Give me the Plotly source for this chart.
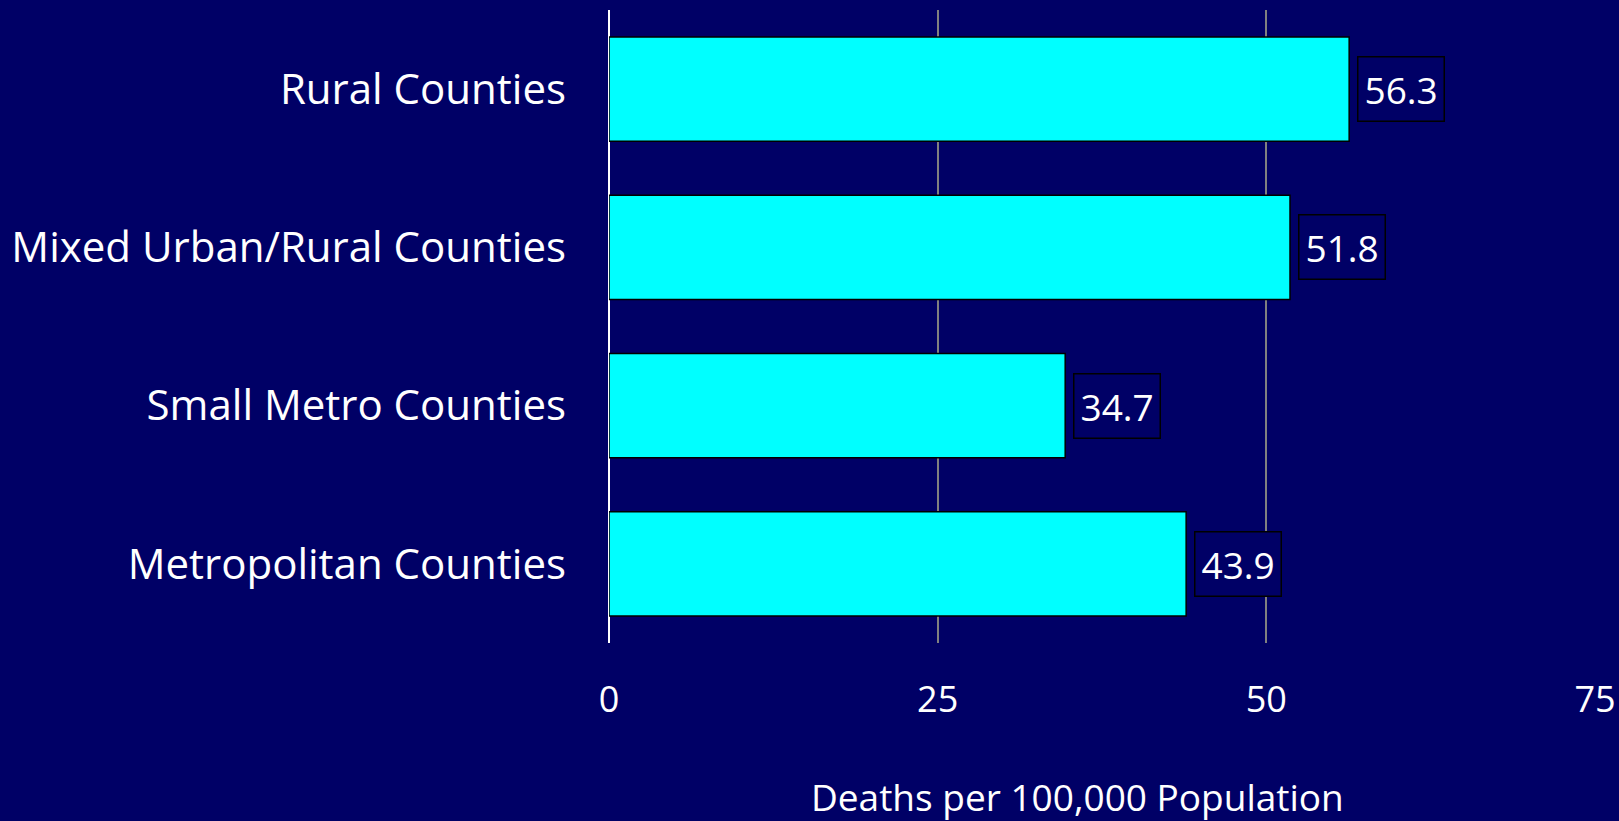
import plotly.graph_objects as go

# data, top to bottom as in the chart
categories = ["Rural Counties", "Mixed Urban/Rural Counties",
              "Small Metro Counties", "Metropolitan Counties"]
deaths = [56.3, 51.8, 34.7, 43.9]
x_ticks = [0, 25, 50, 75]

navy = "#000066"
font_family = "Open Sans, Noto Sans, sans-serif"

fig = go.Figure()

fig.add_trace(
    go.Bar(
        x=deaths,
        y=categories,
        orientation="h",
        marker=dict(color="#00FFFF", line=dict(color="black", width=1.5)),
        width=0.66,
        hoverinfo="x+y",
    )
)

# boxed value labels to the right of each bar
for cat, val in zip(categories, deaths):
    fig.add_annotation(
        x=val, y=cat,
        text=f"{val:.1f}",
        showarrow=False,
        xanchor="left",
        xshift=8,
        font=dict(size=37, color="white", family=font_family),
        bgcolor=navy,
        bordercolor="black",
        borderwidth=1.5,
        borderpad=6,
    )

# x-axis title, sits a little left of the plot centre
fig.add_annotation(
    text="Deaths per 100,000 Population",
    xref="paper", yref="paper",
    x=0.4747, y=-0.243,
    xanchor="center", yanchor="middle",
    showarrow=False,
    font=dict(size=37, color="white", family=font_family),
)

fig.update_layout(
    width=1619, height=821,
    paper_bgcolor=navy,
    plot_bgcolor=navy,
    margin=dict(l=609, r=24, t=10, b=178, autoexpand=False),
    showlegend=False,
    font=dict(family=font_family, color="white"),
)

fig.update_xaxes(
    range=[0, 75],
    tickvals=x_ticks,
    automargin=False,
    showgrid=True, gridcolor="#808080", gridwidth=1.5,
    zeroline=True, zerolinecolor="white", zerolinewidth=2,
    showline=False,
    ticks="",
    ticklabelstandoff=32,
    tickfont=dict(size=36, color="white"),
)

fig.update_yaxes(
    categoryorder="array",
    categoryarray=categories[::-1],
    automargin=False,
    showgrid=False,
    ticks="",
    ticklabelstandoff=42,
    tickfont=dict(size=42, color="white"),
)

fig.write_html("out.html", config={"displayModeBar": False},
               post_script="document.body.style.margin='0';")
